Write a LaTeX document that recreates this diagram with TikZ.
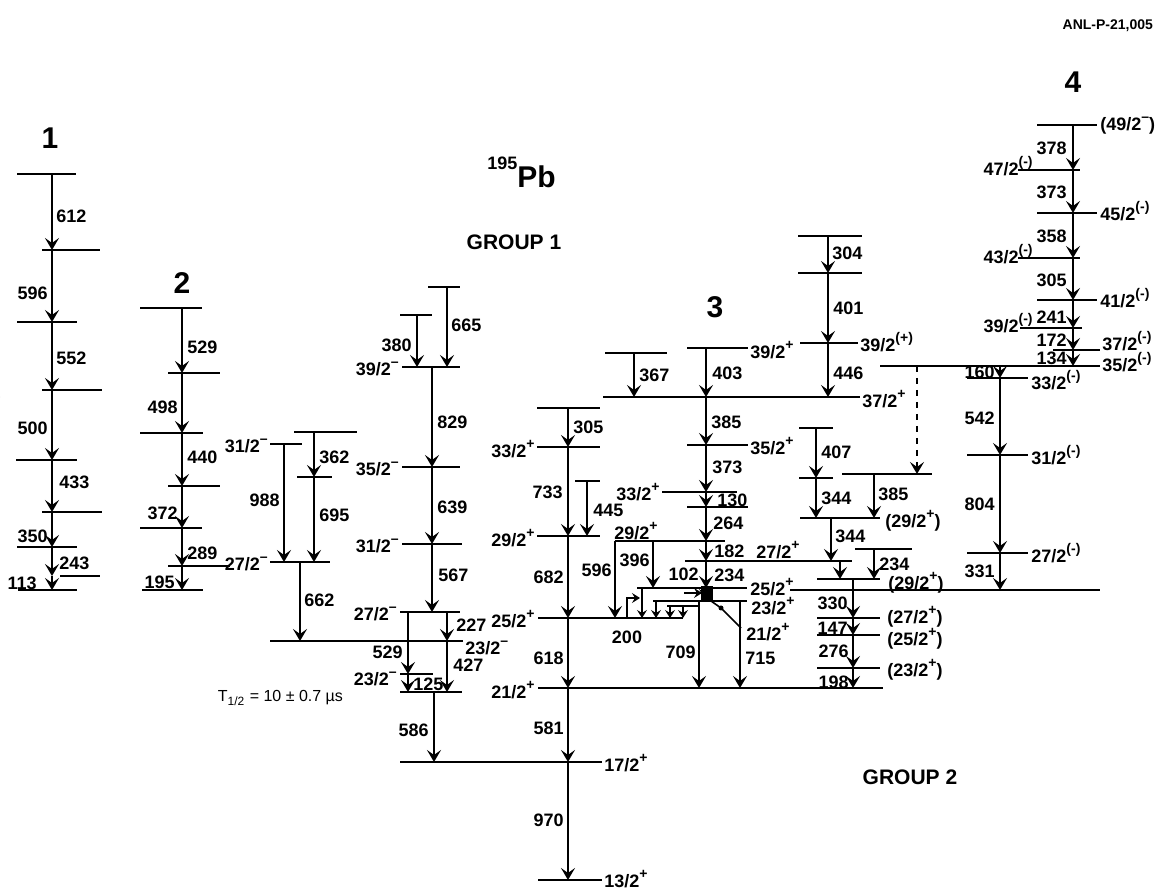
\documentclass[tikz,border=0pt]{standalone}
\usepackage{fontspec}
\setmainfont{Liberation Sans}
\usetikzlibrary{arrows.meta}

\newcommand{\sps}[1]{\raisebox{0.5em}{\fontsize{7}{7}\selectfont #1}}
\newcommand{\js}[2]{#1/2\sps{#2}}
\newcommand{\jq}[2]{(#1/2\sps{#2})}

\begin{document}
\begin{tikzpicture}[x=0.5pt, y=-0.5pt,
    lvl/.style={line width=1.4pt},
    gam/.style={line width=1.1pt, -{Stealth[length=6pt, width=7pt, inset=2.5pt]}},
    tip/.style={line width=0.8pt, -{Stealth[length=4pt, width=5pt, inset=1.5pt]}},
    num/.style={font=\fontsize{9}{9}\selectfont\bfseries, inner sep=0.5pt},
    band/.style={font=\fontsize{15}{15}\selectfont\bfseries},
    head/.style={font=\fontsize{10.5}{10.5}\selectfont\bfseries}
]
  \useasboundingbox[fill=white] (0,0) rectangle (1169,892);

  % titles
  \node[font=\fontsize{7}{7}\selectfont\bfseries, anchor=east] (anl) at (1160,26) {ANL-P-21,005};
  \node[anchor=base west, inner sep=0pt] (nucl) at (487,188)
    {\raisebox{9pt}{\fontsize{9}{9}\selectfont\bfseries 195}{\fontsize{15}{15}\selectfont\bfseries Pb}};
  \node[head] (grp1) at (514,242) {GROUP 1};
  \node[head] (grp2) at (910,777) {GROUP 2};
  \node[band] (b1) at (50,138) {1};
  \node[band] (b2) at (182,283) {2};
  \node[band] (b3) at (715,307) {3};
  \node[band] (b4) at (1073,82) {4};

  % band 1
  \foreach \xa/\xb/\y in {17/76/174, 42/100/250, 17/77/322, 42/102/390, 16/77/460,
      42/102/512, 17/77/547, 18/77/590}
    \draw[lvl] (\xa,\y) -- (\xb,\y);
  \draw[line width=0.7pt] (60,576) -- (100,576);
  \foreach \ya/\yb in {174/250, 250/322, 322/390, 390/460, 460/512, 512/547, 547/576, 576/590}
    \draw[gam] (52,\ya) -- (52,\yb);
  \foreach \t/\lx/\ly/\an in {612/55/216/west, 596/49/293/east, 552/55/358/west, 500/49/428/east,
      433/58/482/west, 350/49/536/east, 243/58/563/west, 113/38/583/east}
    \node[num, anchor=\an] (g\t) at (\lx,\ly) {\t};

  % band 2
  \foreach \xa/\xb/\y in {140/202/308, 168/220/373, 140/203/433, 168/220/486, 140/202/528,
      168/230/566, 142/203/590}
    \draw[lvl] (\xa,\y) -- (\xb,\y);
  \foreach \ya/\yb in {308/373, 373/433, 433/486, 486/528, 528/566, 566/590}
    \draw[gam] (182,\ya) -- (182,\yb);
  \foreach \t/\lx/\ly/\an in {529/186/347/west, 498/179/407/east, 440/186/457/west,
      372/179/513/east, 289/186/553/west, 195/176/582/east}
    \node[num, anchor=\an] (g\t) at (\lx,\ly) {\t};

  % group 1
  \foreach \xa/\xb/\y in {270/302/444, 294/357/432, 297/332/477, 270/330/562, 270/463/641,
      428/460/287, 400/432/315, 402/460/367, 402/460/467, 402/462/544, 400/460/612,
      400/433/674, 400/462/692, 400/602/762}
    \draw[lvl] (\xa,\y) -- (\xb,\y);
  \foreach \x/\ya/\yb in {284/444/562, 314/432/477, 314/477/562, 300/562/641,
      417/315/367, 447/287/367, 432/367/467, 432/467/544, 432/544/612, 408/612/674,
      447/612/641, 447/641/692, 408/674/692, 434/692/762}
    \draw[gam] (\x,\ya) -- (\x,\yb);
  \foreach \t/\lx/\ly/\an in {988/281/500/east, 362/318/457/west, 695/318/515/west,
      662/303/600/west, 380/413/345/east, 665/450/325/west, 829/436/422/west,
      639/436/507/west, 567/437/575/west, 529/404/652/east, 227/455/625/west,
      427/452/665/west, 125/412/684/west, 586/430/730/east}
    \node[num, anchor=\an] (g\t) at (\lx,\ly) {\t};
  \foreach \t/\lx/\ly/\an in {\js{31}{--}/269/446/east, \js{27}{--}/269/564/east,
      \js{23}{--}/464/648/west, \js{39}{--}/400/369/east, \js{35}{--}/400/469/east,
      \js{31}{--}/400/546/east, \js{27}{--}/398/614/east, \js{23}{--}/398/679/east,
      21/2/396/702/east}
    \node[num, anchor=\an] at (\lx,\ly) {\t};
  \node[font=\fontsize{8}{8}\selectfont, anchor=east] (thalf) at (350,698)
    {T\textsubscript{1/2} = 10 ± 0.7 µs};

  % band 3, left column
  \foreach \xa/\xb/\y in {537/600/408, 537/600/447, 575/600/481, 537/600/536,
      538/683/618, 538/883/688, 538/602/880}
    \draw[lvl] (\xa,\y) -- (\xb,\y);
  \foreach \x/\ya/\yb in {568/408/447, 568/447/536, 587/481/536, 568/536/618,
      568/618/688, 568/688/762, 568/762/880}
    \draw[gam] (\x,\ya) -- (\x,\yb);
  \foreach \t/\lx/\ly/\an in {305/572/427/west, 733/564/492/east, 445/592/510/west,
      682/565/577/east, 618/565/658/east, 581/565/728/east, 970/565/820/east}
    \node[num, anchor=\an] (g\t) at (\lx,\ly) {\t};
  \foreach \t/\lx/\ly/\an in {\js{33}{+}/536/449/east, \js{29}{+}/536/538/east,
      \js{25}{+}/536/619/east, \js{21}{+}/536/690/east, \js{17}{+}/603/763/west,
      \js{13}{+}/603/879/west}
    \node[num, anchor=\an] at (\lx,\ly) {\t};

  % band 3, right column
  \foreach \xa/\xb/\y in {605/667/353, 603/860/397, 687/748/348, 687/748/445, 662/737/492,
      687/748/507, 615/725/541, 685/852/561, 637/747/588, 653/747/601, 667/700/606,
      798/862/236, 798/862/273, 800/858/343}
    \draw[lvl] (\xa,\y) -- (\xb,\y);
  \foreach \x/\ya/\yb in {634/353/397, 706/348/397, 706/397/445, 706/445/492, 706/492/507,
      706/507/541, 706/541/561, 706/561/588, 706/588/601, 828/236/273, 828/273/343,
      828/343/397, 615/541/618, 653/541/588, 699/601/688, 740/601/688}
    \draw[gam] (\x,\ya) -- (\x,\yb);
  \foreach \x/\ya in {642/588, 656/601, 670/606, 683/606}
    \draw[tip] (\x,\ya) -- (\x,618);
  \draw[tip] (627,618) -- (627,598) -- (640,598);
  \draw[tip] (684,593) -- (702,593);
  \fill (701,586) rectangle (713,600);
  \draw[line width=0.8pt] (711,601) -- (721,608) -- (741,628);
  \fill (721,608) circle (2.5);
  \foreach \t/\lx/\ly/\an in {367/638/375/west, 403/711/373/west, 385/710/422/west,
      373/711/467/west, 130/716/500/west, 264/712/523/west, 182/713/551/west,
      234/713/575/west, 102/700/574/east, 304/831/253/west, 401/832/308/west,
      446/832/373/west, 596/613/570/east, 396/651/560/east, 709/697/652/east,
      715/744/658/west, 200/627/637/center}
    \node[num, anchor=\an] (g\t) at (\lx,\ly) {\t};
  \foreach \t/\lx/\ly/\an in {\js{39}{+}/749/350/west, \js{39}{(+)}/859/342/west,
      \js{37}{+}/861/399/west, \js{35}{+}/749/446/west, \js{33}{+}/661/492/east,
      \js{29}{+}/636/531/center, \js{27}{+}/778/550/center, \js{25}{+}/749/587/west,
      \js{23}{+}/750/606/west, \js{21}{+}/745/632/west}
    \node[num, anchor=\an] at (\lx,\ly) {\t};

  % side cascade
  \foreach \xa/\xb/\y in {842/932/474, 799/833/428, 799/833/478, 800/880/518, 855/912/549,
      817/880/579, 817/880/618, 817/880/635, 817/880/668, 790/1100/590}
    \draw[lvl] (\xa,\y) -- (\xb,\y);
  \draw[gam, dashed] (917,366) -- (917,474);
  \foreach \x/\ya/\yb in {816/428/478, 816/478/518, 874/474/518, 831/518/561, 840/561/579,
      874/549/579, 853/579/618, 853/618/635, 853/635/668, 853/668/688}
    \draw[gam] (\x,\ya) -- (\x,\yb);
  \foreach \t/\lx/\ly/\an in {407/820/452/west, 344/820/498/west, 385/877/494/west,
      344/834/536/west, 234/878/564/west, 330/849/603/east, 147/849/628/east,
      276/850/651/east, 198/850/682/east}
    \node[num, anchor=\an] (g\t) at (\lx,\ly) {\t};
  \foreach \t/\lx/\ly in {\jq{29}{+}/884/521, \jq{29}{+}/887/583, \jq{27}{+}/886/617,
      \jq{25}{+}/886/639, \jq{23}{+}/886/670}
    \node[num, anchor=west] at (\lx,\ly) {\t};

  % band 4
  \foreach \xa/\xb/\y in {1037/1097/125, 1018/1080/170, 1037/1097/213, 1018/1080/258,
      1037/1097/300, 1020/1082/328, 1053/1100/350, 880/1100/366, 967/1028/378,
      967/1028/455, 967/1028/553}
    \draw[lvl] (\xa,\y) -- (\xb,\y);
  \foreach \x/\ya/\yb in {1073/125/170, 1073/170/213, 1073/213/258, 1073/258/300,
      1073/300/328, 1073/328/350, 1073/350/366, 1000/366/378, 1000/378/455,
      1000/455/553, 1000/553/590}
    \draw[gam] (\x,\ya) -- (\x,\yb);
  \foreach \t/\lx/\ly in {378/1068/148, 373/1068/192, 358/1068/236, 305/1068/280,
      241/1068/317, 172/1068/340, 134/1068/358, 160/996/372, 542/996/418,
      804/996/504, 331/996/571}
    \node[num, anchor=east] (g\t) at (\lx,\ly) {\t};
  \foreach \t/\lx/\ly/\an in {\jq{49}{--}/1099/126/west, \js{47}{(-)}/1034/166/east,
      \js{45}{(-)}/1099/211/west, \js{43}{(-)}/1034/254/east, \js{41}{(-)}/1099/298/west,
      \js{39}{(-)}/1034/323/east, \js{37}{(-)}/1101/341/west, \js{35}{(-)}/1101/362/west,
      \js{33}{(-)}/1030/380/west, \js{31}{(-)}/1030/455/west, \js{27}{(-)}/1030/553/west}
    \node[num, anchor=\an] at (\lx,\ly) {\t};
\end{tikzpicture}
\end{document}
